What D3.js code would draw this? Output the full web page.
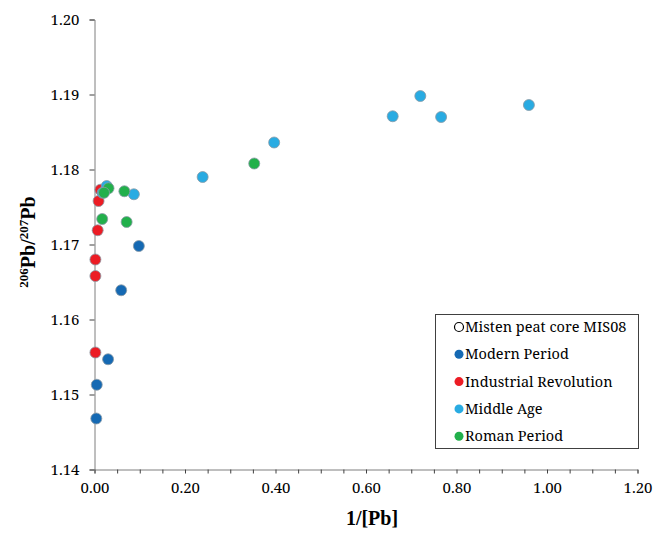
<!DOCTYPE html>
<meta charset="utf-8">
<style>
body,html{ margin:0; padding:0; background:#fff; }
</style>
<svg width="656" height="536"></svg>
<script src="https://d3js.org/d3.v7.min.js"></script>
<script>

// series, [1/[Pb], 206Pb/207Pb]
var modernX = [0.098, 0.059, 0.030, 0.005, 0.004];
var modernY = [1.1698, 1.1639, 1.1547, 1.1513, 1.1468];

var industrialX = [0.013, 0.009, 0.007, 0.002, 0.002, 0.002];
var industrialY = [1.1773, 1.1758, 1.1719, 1.1680, 1.1658, 1.1556];

var middleX = [0.027, 0.087, 0.018, 0.239, 0.397, 0.659, 0.720, 0.766, 0.960];
var middleY = [1.1778, 1.1767, 1.1769, 1.1790, 1.1836, 1.1871, 1.1898, 1.1870, 1.1886];

var romanX = [0.017, 0.071, 0.066, 0.031, 0.021, 0.353];
var romanY = [1.1734, 1.1730, 1.1771, 1.1775, 1.1769, 1.1808];

var legendLabels = ["Misten peat core MIS08", "Modern Period", "Industrial Revolution", "Middle Age", "Roman Period"];
var xTicks = [0, 0.2, 0.4, 0.6, 0.8, 1.0, 1.2];
var yTicks = [1.14, 1.15, 1.16, 1.17, 1.18, 1.19, 1.20];

// Liberation Serif comes out sans at 15-17px here, so small text uses Noto Serif
var FONT = "'Liberation Serif', serif";
var SMALL = "'Noto Serif', serif";

var series = [
  {name: "Modern Period", color: "#1569b3", xs: modernX, ys: modernY},
  {name: "Industrial Revolution", color: "#ec1c24", xs: industrialX, ys: industrialY},
  {name: "Middle Age", color: "#29abe2", xs: middleX, ys: middleY},
  {name: "Roman Period", color: "#22b04b", xs: romanX, ys: romanY}
];

var svg = d3.select("svg");

var x = d3.scaleLinear().domain([0, 1.2]).range([94.5, 637.5]);
var y = d3.scaleLinear().domain([1.14, 1.20]).range([469.5, 19.5]);

// x axis (major + minor ticks)
var xAxis = svg.append("g")
    .attr("transform", "translate(0," + y(1.14) + ")")
    .call(d3.axisBottom(x).tickValues(d3.range(0, 1.2001, 0.05)).tickSize(4).tickFormat(""));
xAxis.select(".domain").attr("stroke", "#7f7f7f");
xAxis.selectAll(".tick line").attr("stroke", "#404040");

var xLab = svg.append("g")
    .attr("transform", "translate(0," + y(1.14) + ")")
    .call(d3.axisBottom(x).tickValues(xTicks).tickSize(0).tickPadding(13).tickFormat(d3.format(".2f")));
xLab.select(".domain").remove();

var yAxis = svg.append("g")
    .attr("transform", "translate(" + x(0) + ",0)")
    .call(d3.axisLeft(y).tickValues(yTicks).tickSize(5).tickPadding(10).tickFormat(d3.format(".2f")));
yAxis.select(".domain").attr("stroke", "#7f7f7f");
yAxis.selectAll(".tick line").attr("stroke", "#404040");

svg.selectAll(".tick text")
    .style("font-family", SMALL).style("font-size", "15px").attr("fill", "#000");

// axis titles
svg.append("text")
    .attr("x", 372).attr("y", 525)
    .attr("text-anchor", "middle")
    .style("font-family", FONT)
    .style("font-size", "20px").style("font-weight", "bold")
    .text("1/[Pb]");

var yt = svg.append("text")
    .attr("transform", "translate(35,242) rotate(-90)")
    .attr("text-anchor", "middle")
    .style("font-family", FONT)
    .style("font-size", "20px").style("font-weight", "bold");
yt.append("tspan").attr("dy", "-7").style("font-size", "13px").text("206");
yt.append("tspan").attr("dy", "7").text("Pb/");
yt.append("tspan").attr("dy", "-7").style("font-size", "13px").text("207");
yt.append("tspan").attr("dy", "7").text("Pb");

// points
series.forEach(function(s) {
  svg.append("g").selectAll("circle")
    .data(s.xs.map(function(v, i) { return [v, s.ys[i]]; }))
    .enter().append("circle")
      .attr("cx", function(d) { return x(d[0]); })
      .attr("cy", function(d) { return y(d[1]); })
      .attr("r", 5.5)
      .attr("fill", s.color)
      .attr("stroke", "#8a9aa6")
      .attr("stroke-width", 0.8);
});

// legend
var lg = svg.append("g");
lg.append("rect")
    .attr("x", 435.5).attr("y", 314.5).attr("width", 203).attr("height", 134)
    .attr("fill", "#fff").attr("stroke", "#404040").attr("stroke-width", 1);

var legendColors = ["none", "#1569b3", "#ec1c24", "#29abe2", "#22b04b"];
legendLabels.forEach(function(t, i) {
  var cy = 327 + i * 27.3;
  lg.append("circle")
    .attr("cx", 459).attr("cy", cy).attr("r", 4.5)
    .attr("fill", legendColors[i] == "none" ? "#fff" : legendColors[i])
    .attr("stroke", i == 0 ? "#000" : "none")
    .attr("stroke-width", 1.2);
  lg.append("text")
    .attr("x", 465).attr("y", cy + 5)
    .style("font-family", SMALL)
    .style("font-size", "14.5px")
    .text(t);
});

</script>
